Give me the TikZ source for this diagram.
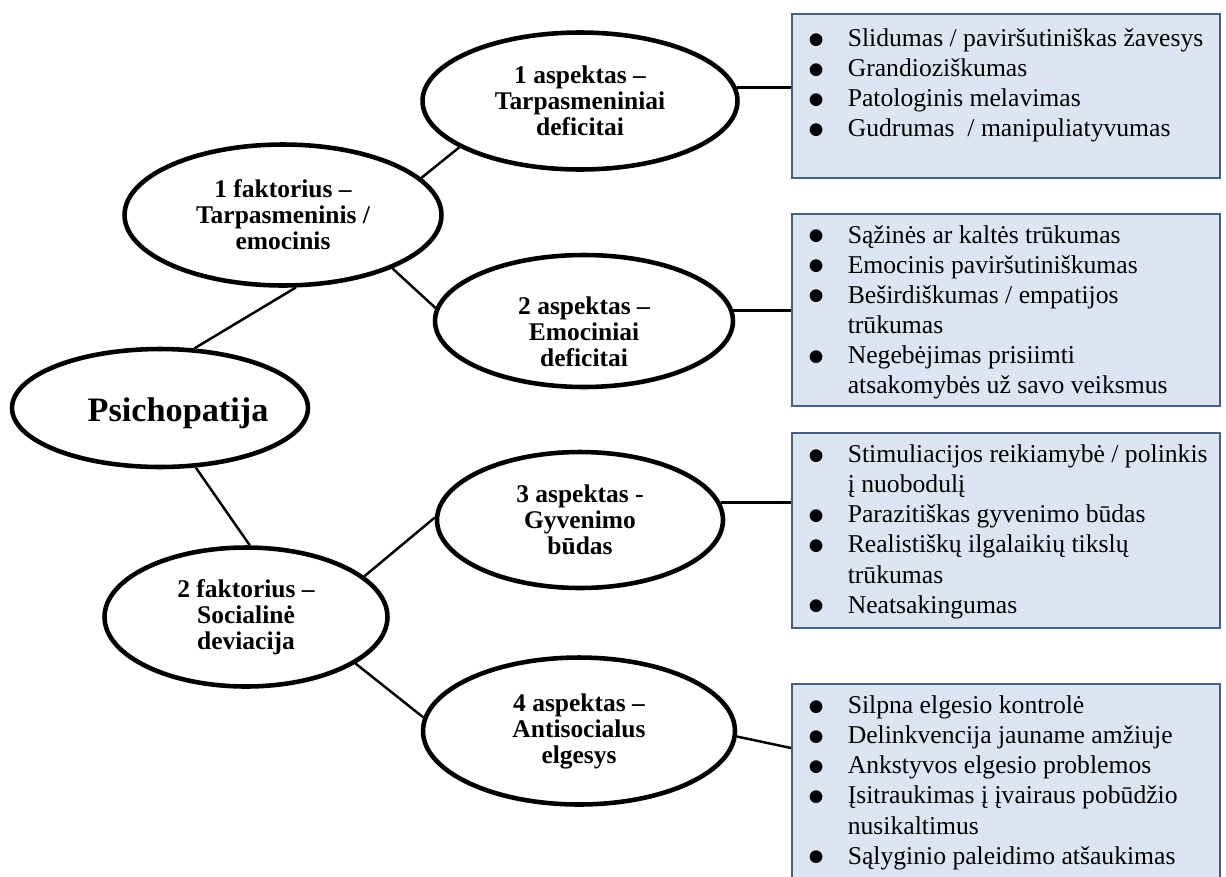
\documentclass[tikz,border=0pt]{standalone}
\usepackage{fontspec}
\setmainfont{Liberation Serif}
\newfontfamily\dotfont{DejaVu Sans}
\usetikzlibrary{shapes.geometric}
\definecolor{boxfill}{RGB}{220,230,242}
\definecolor{boxline}{RGB}{70,96,130}
\newcommand{\boxitem}[1]{\par\hangindent=1.12cm\hangafter=1\noindent\hspace*{0.34cm}\makebox[0.78cm][l]{\raisebox{0.05cm}{\dotfont\fontsize{9.5}{9.5}\selectfont ●}}\strut#1\strut}

\begin{document}
\begin{tikzpicture}[
    x=0.02cm, y=-0.02cm,
    oval/.style={ellipse, draw=black, line width=2.6pt, fill=white, align=center, inner sep=0pt, font=\bfseries\fontsize{14.5}{14.8}\selectfont},
    listbox/.style={draw=boxline, line width=0.9pt, fill=boxfill, inner sep=0pt, anchor=north west, font=\fontsize{14.6}{17.1}\selectfont},
    link/.style={draw=black, line width=1.4pt}
]
\clip (0,0) rectangle (1226,876);

% Root
\node[oval, minimum width=5.92cm, minimum height=2.36cm, font=\bfseries\fontsize{19.5}{22}\selectfont] (psi) at (160,408) {\raisebox{-0.27cm}[0pt][0pt]{\makebox[0pt]{\hspace*{0.72cm}Psichopatija}}};

% Factor 1
\node[oval, minimum width=6.34cm, minimum height=2.82cm] (f1) at (283,215) {1 faktorius --\\ Tarpasmeninis /\\ emocinis};

% Factor 2
\node[oval, minimum width=5.66cm, minimum height=2.78cm] (f2) at (246,617) {2 faktorius --\\ Socialinė\\ deviacija};

% Aspects
\node[oval, minimum width=6.3cm, minimum height=2.74cm] (a1) at (580,101) {1 aspektas --\\ Tarpasmeniniai\\ deficitai};
\node[oval, minimum width=5.96cm, minimum height=2.64cm] (a2) at (584,321) {\rule{0pt}{0.8cm}2 aspektas --\\ Emociniai\\ deficitai};
\node[oval, minimum width=5.72cm, minimum height=2.72cm] (a3) at (580,520) {3 aspektas -\\ Gyvenimo\\ būdas};
\node[oval, minimum width=6.24cm, minimum height=2.94cm] (a4) at (579,731) {4 aspektas --\\ Antisocialus\\ elgesys};

% Trait lists
\node[listbox] (box1) at (791,13) {\parbox[c][3.28cm][t]{8.56cm}{\raggedright\vspace*{0.24cm}
    \boxitem{Slidumas / paviršutiniškas žavesys}
    \boxitem{Grandioziškumas}
    \boxitem{Patologinis melavimas}
    \boxitem{Gudrumas \ / manipuliatyvumas}}};

\node[listbox] (box2) at (791,213) {\parbox[c][3.84cm][t]{8.56cm}{\raggedright\vspace*{0.17cm}
    \boxitem{Sąžinės ar kaltės trūkumas}
    \boxitem{Emocinis paviršutiniškumas}
    \boxitem{Beširdiškumas / empatijos\newline trūkumas}
    \boxitem{Negebėjimas prisiimti\newline atsakomybės už savo veiksmus}}};

\node[listbox] (box3) at (791,432) {\parbox[c][3.9cm][t]{8.56cm}{\raggedright\vspace*{0.18cm}
    \boxitem{Stimuliacijos reikiamybė / polinkis\newline į nuobodulį}
    \boxitem{Parazitiškas gyvenimo būdas}
    \boxitem{Realistiškų ilgalaikių tikslų\newline trūkumas}
    \boxitem{Neatsakingumas}}};

\node[listbox] (box4) at (791,683) {\parbox[c][4.1cm][t]{8.56cm}{\raggedright\vspace*{0.18cm}
    \boxitem{Silpna elgesio kontrolė}
    \boxitem{Delinkvencija jauname amžiuje}
    \boxitem{Ankstyvos elgesio problemos}
    \boxitem{Įsitraukimas į įvairaus pobūdžio\newline nusikaltimus}
    \boxitem{Sąlyginio paleidimo atšaukimas}}};

% Connecting lines
\draw[link] (psi.60) -- (f1.-80);
\draw[link] (psi.-59) -- (f2.87);
\draw[link] (f1.15.5) -- (a1.201.5);
\draw[link] (f1.-26) -- (a2.175);
\draw[link] (f2.19) -- (a3.179);
\draw[link] (f2.-23) -- (a4.175);
\draw[link] (a1.5) -- (a1.5 -| box1.west);
\draw[link] (a2.4) -- (a2.4 -| box2.west);
\draw[link] (a3.7) -- (a3.7 -| box3.west);
\draw[link] (a4.-2) -- ([yshift=-1.3cm]box4.north west);

\end{tikzpicture}
\end{document}
